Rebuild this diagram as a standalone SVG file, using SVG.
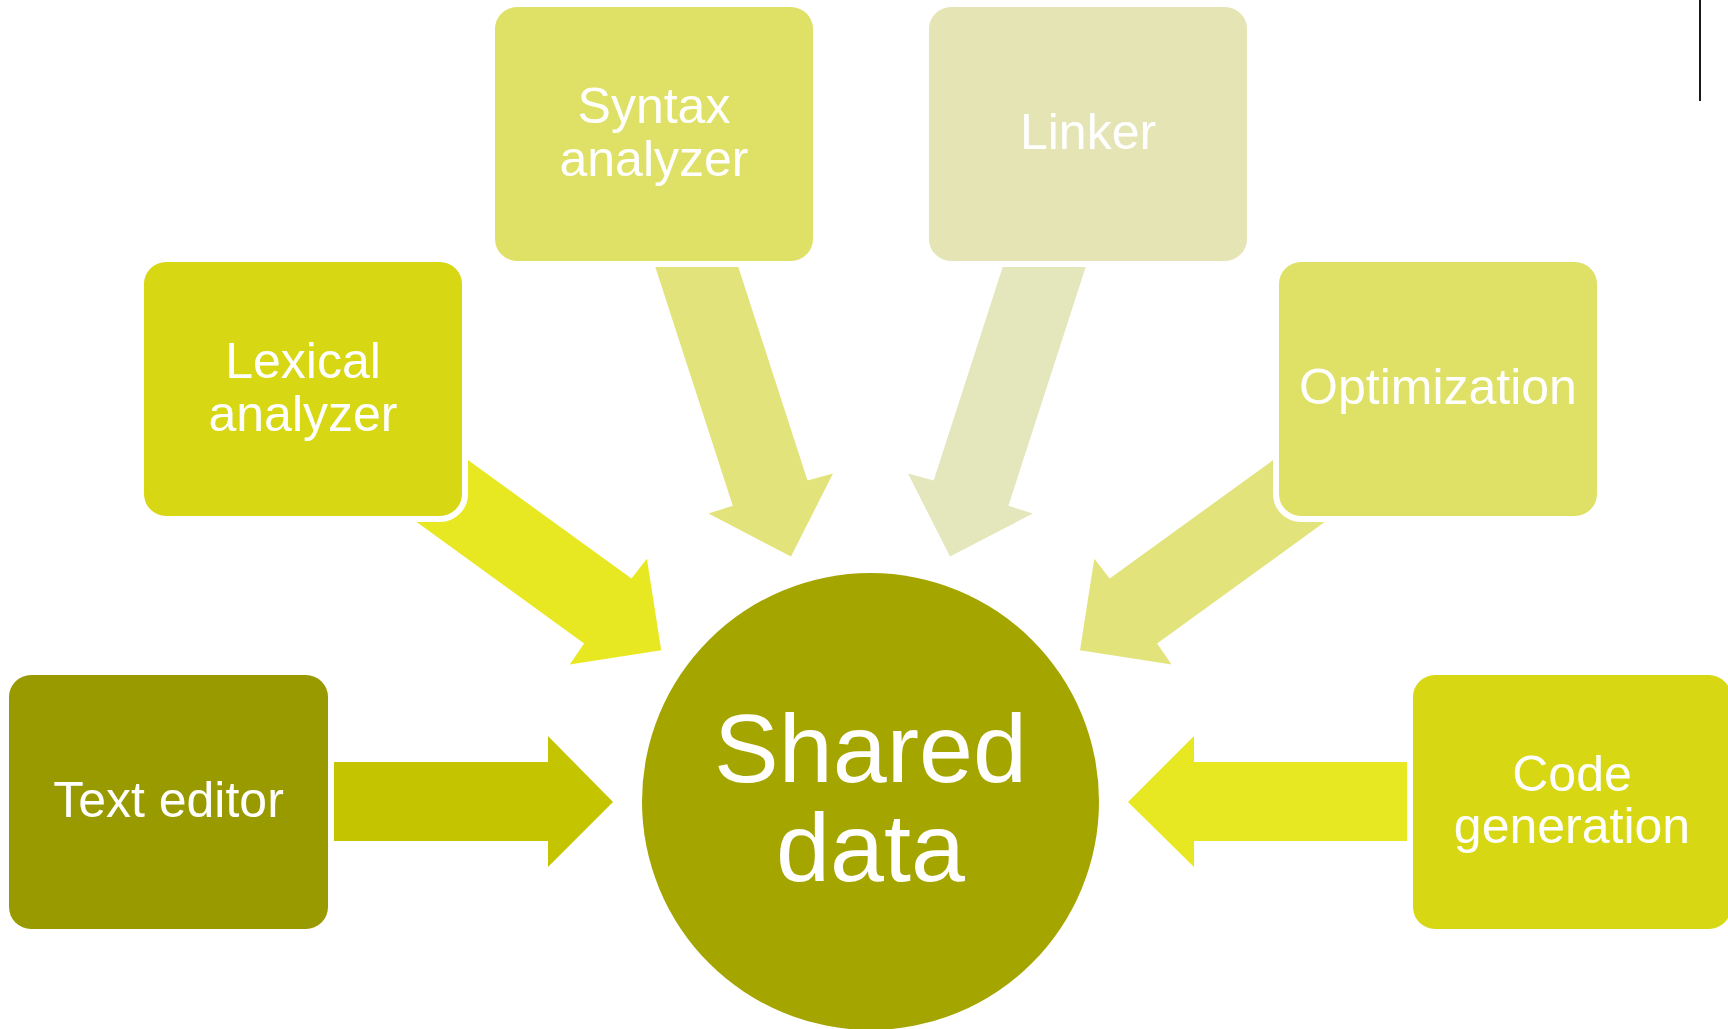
<svg xmlns="http://www.w3.org/2000/svg" width="1728" height="1029" viewBox="0 0 1728 1029">
<style>
.box{stroke:#FFFFFF;stroke-width:12;paint-order:stroke}
.lbl{font-family:"Liberation Sans",Arial,sans-serif;font-size:50px;fill:#FFFFFF;text-anchor:middle}
.big{font-family:"Liberation Sans",Arial,sans-serif;font-size:97px;fill:#FFFFFF;text-anchor:middle}
</style>
<rect width="1728" height="1029" fill="#FFFFFF"/>
<line x1="1700" y1="0" x2="1700" y2="101" stroke="#1A1A1A" stroke-width="2"/>
<g id="connectors">
<polygon points="334,762 548,762 548,736 613,802 548,867 548,841 334,841" fill="#C4C400"/>
<polygon points="1408,762 1194,762 1194,736 1128,802 1194,867 1194,841 1408,841" fill="#E8E822"/>
<polygon points="655,266 738,266 807.5,480.5 833,473.5 791,556.5 708.5,513.5 732.8,505.8" fill="#E2E37A"/>
<polygon points="1086,266 1003,266 933.7,480.5 908,473.5 950,556.5 1032.7,513.5 1008.4,505.8" fill="#E4E6BC"/>
<polygon points="428,431 631.5,578.6 646.9,558.7 661.2,650.2 569.7,664.5 584.1,643.6 378.3,494.2" fill="#E8E822"/>
<polygon points="1313.2,431 1109.7,578.6 1094.3,558.7 1080,650.2 1171.5,664.5 1157.1,643.6 1362.9,494.2" fill="#E2E37A"/>
</g>
<g id="shared-data">
<circle cx="870.5" cy="801.5" r="228.5" fill="#A5A500"/>
<text class="big" x="870.5" y="782">Shared</text>
<text class="big" x="870.5" y="880.5">data</text>
</g>
<g id="syntax-analyzer">
<rect class="box" x="495" y="7" width="318" height="254" rx="22" fill="#DFE066"/>
<text class="lbl" x="654" y="123">Syntax</text>
<text class="lbl" x="654" y="175.5">analyzer</text>
</g>
<g id="linker">
<rect class="box" x="929" y="7" width="318" height="254" rx="22" fill="#E4E4B4"/>
<text class="lbl" x="1088" y="149">Linker</text>
</g>
<g id="lexical-analyzer">
<rect class="box" x="144" y="262" width="318" height="254" rx="22" fill="#D7D714"/>
<text class="lbl" x="303" y="378">Lexical</text>
<text class="lbl" x="303" y="430.5">analyzer</text>
</g>
<g id="optimization">
<rect class="box" x="1279" y="262" width="318" height="254" rx="22" fill="#DFE066"/>
<text class="lbl" x="1438" y="404">Optimization</text>
</g>
<g id="text-editor">
<rect class="box" x="9" y="675" width="319" height="254" rx="22" fill="#999900"/>
<text class="lbl" x="168.5" y="816.5">Text editor</text>
</g>
<g id="code-generation">
<rect class="box" x="1413" y="675" width="318" height="254" rx="22" fill="#D7D714"/>
<text class="lbl" x="1572" y="790.5">Code</text>
<text class="lbl" x="1572" y="842.5">generation</text>
</g>
</svg>
